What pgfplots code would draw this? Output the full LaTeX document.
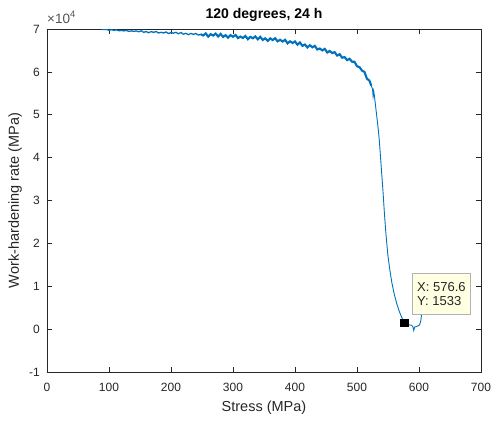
\documentclass[border=0pt]{standalone}
\usepackage{pgfplots}
\pgfplotsset{compat=1.18}
\usepackage{fontspec}
\setmainfont{Liberation Sans}
\definecolor{mblue}{RGB}{0,114,189}
\definecolor{axgray}{RGB}{38,38,38}
\definecolor{tipbg}{RGB}{255,255,225}
\begin{document}
\begin{tikzpicture}
\path[use as bounding box] (-47pt,-49pt) rectangle (452pt,372pt);
\begin{axis}[
 at={(0,0)}, anchor=south west,
 scale only axis, width=434pt, height=343pt,
 xmin=0, xmax=700, ymin=-10000, ymax=70000,
 xtick={0,100,...,700},
 ytick={-10000,0,10000,20000,30000,40000,50000,60000,70000},
 yticklabels={-1,0,1,2,3,4,5,6,7},
 scaled y ticks=false, scaled x ticks=false,
 tick align=inside, major tick length=5pt,
 axis line style={axgray, line width=0.6pt},
 tick style={axgray, line width=0.6pt},
 tick label style={font=\fontsize{12}{14}\selectfont, text=axgray},
 xticklabel style={anchor=center, yshift=-15pt, inner sep=0pt},
 yticklabel style={anchor=east, xshift=-7pt, inner sep=0pt},
 /pgf/number format/assume math mode=true,
 xlabel={Stress (MPa)},
 ylabel={Work-hardening rate (MPa)},
 label style={font=\fontsize{14.5}{17}\selectfont, text=axgray},
 xlabel style={at={(axis description cs:0.5,-0.105)}, anchor=center},
 ylabel style={at={(axis description cs:-0.0737,0.5)}, anchor=center},
 title={120 degrees, 24 h},
 every axis title shift=0pt,
 title style={at={(axis description cs:0.5,1.0408)}, anchor=center, font=\bfseries\fontsize{14}{17}\selectfont},
 clip mode=individual,
]
\addplot[mblue, line width=1.3pt] coordinates {
(88,70100)(92,69863)(96,69907)(100,69700)(104,69828)(108,69706)(112,69794)(116,69592)
(120,69660)(124,69558)(128,69656)(132,69444)(136,69562)(140,69460)(144,69548)(148,69356)
(152,69588)(156,69224)(160,69420)(164,69116)(168,69412)(172,69208)(176,69424)(180,69060)
(184,69236)(188,69072)(192,69308)(196,68924)(200,69200)(204,69028)(208,69236)(212,68884)
(216,69172)(220,68800)(224,68988)(228,68676)(232,68964)(236,68752)(240,68960)(244,68588)
(248,68756)(252,68484)
};
\addplot[mblue, line width=2.1pt] coordinates {
(248,68756)(252,68484)(256,68972)(260,68220)(264,68788)(268,68476)(272,68924)(276,68252)
(280,68860)(284,68148)(288,68556)(292,67964)(296,68572)(300,68180)(304,68612)(308,67884)
(312,68236)(316,67908)(320,68380)(324,67612)(328,68164)(332,67836)(336,68268)(340,67580)
(344,68172)(348,67444)(352,67837)(356,67231)(360,67825)(364,67418)(368,67852)(372,67126)
(376,67480)(380,67083)(384,67487)(388,66650)(392,67133)(396,66737)(400,67100)(404,66340)
(408,66860)(412,66060)(416,66380)(420,65700)(424,66220)(428,65740)(432,66075)(436,65226)
(440,65457)(444,65008)(448,65358)(452,64519)(456,64875)(460,64400)(464,64589)(468,63799)
(472,64129)(476,63303)(480,63458)(484,62738)(488,63068)(492,62368)(496,62351)(500,61320)
(504,61110)(508,60305)(512,60000)(516,58410)(520,57975)(523,56800)
};
\addplot[mblue, line width=0.9pt] coordinates {
(520,57975)(523,56800)(525,56000)(526,54300)(527,55500)(528,54500)(530,52000)(532,49500)(534,47000)
(536,44000)(538,40000)(540,36000)(542,32000)(544,27500)(546,23500)(548,20000)(550,17000)
(553,13800)(556,11000)(560,8200)(564,6000)(568,4200)(572,2800)(576.6,1533)(580,1200)
(584,1000)(588,900)(590,600)(591.5,-300)(593,500)(596,600)(599,800)(601,1000)(603,2000)(604,3300)
};
\addplot[only marks, mark=square*, mark size=3.8pt, black] coordinates {(576.6,1533)};
\node[draw=black!30, fill=tipbg, anchor=north west, align=left, text=axgray,
      font=\fontsize{13}{14.3}\selectfont, inner xsep=5pt, inner ysep=9pt]
      at (axis cs:588.7,13120) {X: 576.6\\Y: 1533};
\node[anchor=base west, inner sep=0pt, text=axgray!80, font=\fontsize{13.5}{15}\selectfont]
      at (rel axis cs:0,1.0175) {×10\textsuperscript{4}};
\end{axis}
\end{tikzpicture}
\end{document}
